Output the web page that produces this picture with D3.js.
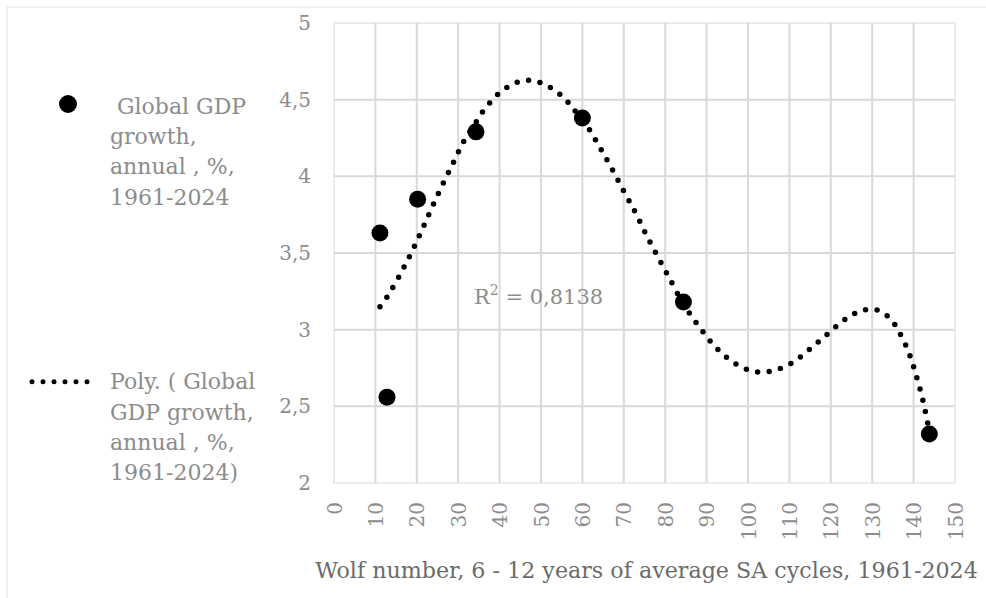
<!DOCTYPE html>
<html>
<head>
<meta charset="utf-8">
<script src="https://cdn.jsdelivr.net/npm/d3@7/dist/d3.min.js"></script>
<style>
	html, body { margin: 0; padding: 0; background: #fff; }
	svg text { font-family: "DejaVu Serif", serif; }
</style>
</head>
<body>
<div id="chart"></div>
<script>
// observed points: Wolf number vs global GDP growth
var wolfNumbers = [11.1, 12.8, 20.2, 34.3, 60.0, 84.4, 143.8];
var gdpGrowth   = [3.63, 2.56, 3.85, 4.29, 4.38, 3.18, 2.32];

// polynomial trendline
var trendX = [11.1, 13.0, 16.0, 18.7, 21.2, 23.6, 26.1, 28.7, 31.3, 34.5, 36.1, 38.0, 40.1, 42.5, 45.2, 48.2, 51.0, 53.6, 55.8, 57.7,
	61.4, 64.4, 67.3, 70.1, 72.9, 75.5, 78.3, 81.1, 83.9, 85.6, 87.2, 89.0, 90.8, 92.8, 95.0, 97.4, 100.1, 103.0, 105.9, 108.8,
	111.4, 113.7, 116.0, 118.3, 120.5, 122.8, 125.2, 127.9, 130.9, 133.5, 135.5, 136.9, 138.2, 139.3, 140.2, 141.0, 141.8, 142.5, 143.1, 143.8];
var trendY = [3.15, 3.221, 3.361, 3.502, 3.648, 3.793, 3.939, 4.082, 4.226, 4.361, 4.428, 4.491, 4.548, 4.591, 4.622, 4.624, 4.598, 4.556, 4.504, 4.443,
	4.317, 4.180, 4.041, 3.898, 3.759, 3.615, 3.471, 3.332, 3.19, 3.117, 3.056, 2.991, 2.928, 2.869, 2.815, 2.771, 2.738, 2.723, 2.732, 2.758,
	2.797, 2.845, 2.898, 2.950, 3.002, 3.054, 3.097, 3.128, 3.130, 3.093, 3.032, 2.965, 2.893, 2.817, 2.741, 2.665, 2.588, 2.508, 2.432, 2.34];

var xTicks = d3.range(0, 151, 10);
var yTicks = [2, 2.5, 3, 3.5, 4, 4.5, 5];
var legendLabels = [
	[" Global GDP", "growth,", "annual , %,", "1961-2024"],
	["Poly. ( Global", "GDP growth,", "annual , %,", "1961-2024)"]
];
var xTitle = "Wolf number, 6 - 12 years of average SA cycles, 1961-2024";
var rSquared = "0,8138";

;(function(){
	var W = 986, H = 598;
	var plot = { left: 334, right: 955, top: 23, bottom: 483 };
	var tickColor = "#8c8c8c", gridColor = "#d9d9d9";

	var svg = d3.select("#chart").append("svg")
		.attr("width", W)
		.attr("height", H);

	// chart frame
	svg.append("rect")
		.attr("x", 7).attr("y", 7)
		.attr("width", W + 20).attr("height", H + 20)
		.attr("fill", "#fff")
		.attr("stroke", "#f0f0f0")
		.attr("stroke-width", 2);

	var x = d3.scaleLinear().domain([0, 150]).range([plot.left, plot.right]);
	var y = d3.scaleLinear().domain([2, 5]).range([plot.bottom, plot.top]);

	// plot area border
	svg.append("rect")
		.attr("x", plot.left).attr("y", plot.top)
		.attr("width", plot.right - plot.left)
		.attr("height", plot.bottom - plot.top)
		.attr("fill", "none")
		.attr("stroke", "#ececec")
		.attr("stroke-width", 2);

	// gridlines
	var grid = svg.append("g");
	grid.selectAll("line.v")
		.data(xTicks.filter(function(d){ return d > 0 && d < 150; }))
		.enter().append("line")
		.attr("class", "v")
		.attr("x1", function(d){ return x(d); })
		.attr("x2", function(d){ return x(d); })
		.attr("y1", plot.top).attr("y2", plot.bottom)
		.attr("stroke", gridColor).attr("stroke-width", 2);
	grid.selectAll("line.h")
		.data(yTicks.filter(function(d){ return d > 2 && d < 5; }))
		.enter().append("line")
		.attr("class", "h")
		.attr("y1", function(d){ return y(d); })
		.attr("y2", function(d){ return y(d); })
		.attr("x1", plot.left).attr("x2", plot.right)
		.attr("stroke", gridColor).attr("stroke-width", 2);

	// y axis labels
	var yAxis = d3.axisLeft(y)
		.tickValues(yTicks)
		.tickSize(0)
		.tickPadding(23)
		.tickFormat(function(d){ return String(d).replace(".", ","); });
	var gy = svg.append("g")
		.attr("transform", "translate(" + plot.left + ",0)")
		.call(yAxis);
	gy.select(".domain").remove();
	gy.selectAll("text")
		.attr("fill", tickColor)
		.style("font-size", "20px")
		.style("font-family", "DejaVu Serif");

	// x axis labels, rotated
	var xAxis = d3.axisBottom(x)
		.tickValues(xTicks)
		.tickSize(0)
		.tickFormat(d3.format("d"));
	var gx = svg.append("g")
		.attr("transform", "translate(0," + plot.bottom + ")")
		.call(xAxis);
	gx.select(".domain").remove();
	gx.selectAll("text")
		.attr("fill", tickColor)
		.attr("transform", "rotate(-90)")
		.attr("x", -19)
		.attr("y", 0)
		.attr("dy", "0.35em")
		.attr("text-anchor", "end")
		.style("font-size", "20px")
		.style("font-family", "DejaVu Serif");

	// axis title
	svg.append("text")
		.attr("x", (plot.left + plot.right) / 2 + 2)
		.attr("y", 578)
		.attr("text-anchor", "middle")
		.attr("fill", "#6b6b6b")
		.style("font-size", "22.2px")
		.text(xTitle);

	// trendline
	var trend = d3.zip(trendX, trendY);
	var line = d3.line()
		.x(function(d){ return x(d[0]); })
		.y(function(d){ return y(d[1]); })
		.curve(d3.curveCatmullRom);
	svg.append("path")
		.datum(trend)
		.attr("d", line)
		.attr("fill", "none")
		.attr("stroke", "#000")
		.attr("stroke-width", 5.5)
		.attr("stroke-linecap", "round")
		.attr("stroke-dasharray", "0 11.6");

	// R squared label
	var rt = svg.append("text")
		.attr("x", 474)
		.attr("y", 304)
		.attr("fill", tickColor)
		.style("font-size", "21px");
	rt.append("tspan").text("R");
	rt.append("tspan").attr("dy", -9).style("font-size", "14px").text("2");
	rt.append("tspan").attr("dy", 9).text(" = " + rSquared);

	// data points
	svg.append("g").selectAll("circle")
		.data(d3.zip(wolfNumbers, gdpGrowth))
		.enter().append("circle")
		.attr("cx", function(d){ return x(d[0]); })
		.attr("cy", function(d){ return y(d[1]); })
		.attr("r", 8.5)
		.attr("fill", "#000");

	// legend
	var lg = svg.append("g");
	lg.append("circle")
		.attr("cx", 68).attr("cy", 104).attr("r", 9)
		.attr("fill", "#000");
	lg.append("line")
		.attr("x1", 32).attr("x2", 98)
		.attr("y1", 381.7).attr("y2", 381.7)
		.attr("stroke", "#000")
		.attr("stroke-width", 5)
		.attr("stroke-linecap", "round")
		.attr("stroke-dasharray", "0 11");
	var legendTop = [106, 381.7];
	legendLabels.forEach(function(lines, i){
		var t = lg.append("text")
			.attr("x", 110)
			.attr("y", legendTop[i])
			.attr("fill", tickColor)
			.style("font-size", "22px")
			.style("white-space", "pre")
			.attr("xml:space", "preserve");
		lines.forEach(function(s, j){
			t.append("tspan")
				.attr("x", 110)
				.attr("y", legendTop[i] + j * 30.3)
				.attr("dy", "0.35em")
				.text(s);
		});
	});
})();
</script>
</body>
</html>
